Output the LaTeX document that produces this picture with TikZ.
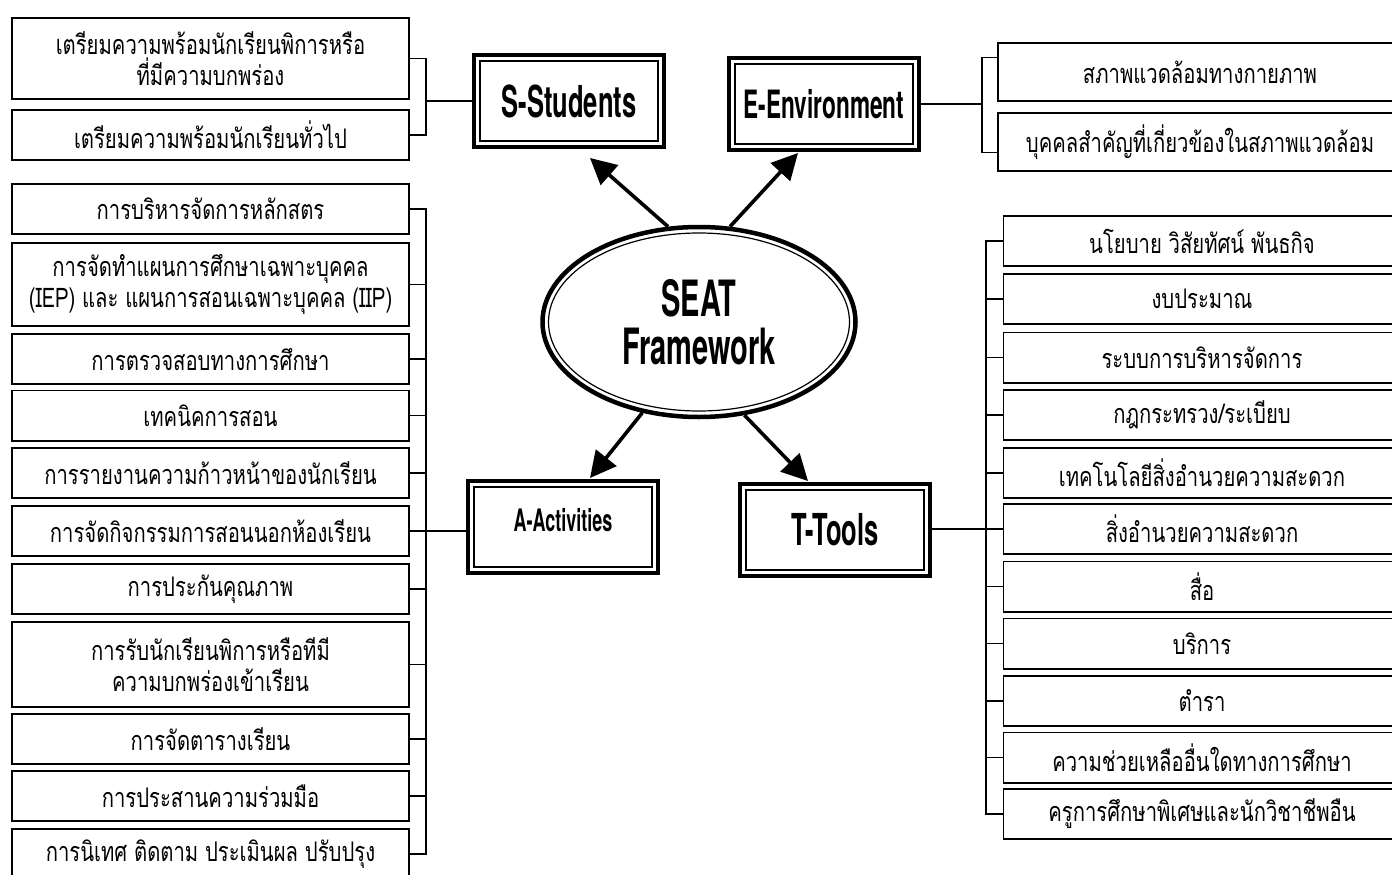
\documentclass[tikz,border=0pt]{standalone}
\usepackage{fontspec}
\usepackage{tikz}
\usetikzlibrary{arrows.meta,calc,shapes.geometric}
\newfontfamily\thaifont[Script=Thai,FakeStretch=0.75]{Loma}
\newfontfamily\headfont[FakeStretch=0.58]{TeX Gyre Heros}

\begin{document}
\begin{tikzpicture}[x=1pt,y=-1pt]
    % Stili per i riquadri
    \tikzset{
        item_box/.style={
            draw=black, % bordo sottile
            line width=1.6pt,
            fill=white,
            minimum width=397pt, % larghezza colonna
            minimum height=50.4pt, % altezza di una riga
            align=center,
            inner sep=2pt,
            outer sep=0pt,
            font=\thaifont\fontsize{27}{31}\selectfont
        },
        head_box/.style={
            draw=black, % bordo esterno spesso
            line width=4pt,
            fill=white,
            minimum width=190pt,
            minimum height=92pt,
            align=center,
            outer sep=0pt,
            font=\headfont\bfseries\fontsize{44}{48}\selectfont,
            path picture={
                \draw[line width=1.2pt] ([shift={(6pt,6pt)}]path picture bounding box.south west)
                    rectangle ([shift={(-6pt,-6pt)}]path picture bounding box.north east);
            }
        },
        seat_ellipse/.style={
            ellipse,
            draw=black, % bordo esterno spesso
            line width=4.5pt,
            fill=white,
            minimum width=313pt,
            minimum height=190pt,
            align=center,
            font=\headfont\bfseries\fontsize{50}{48}\selectfont,
            path picture={
                \draw[line width=1.2pt] let \p1=(path picture bounding box.north east),
                    \p2=(path picture bounding box.center) in
                    (\p2) ellipse [x radius=\x1-\x2-6pt, y radius=\y1-\y2-6pt];
            }
        },
        link_line/.style={
            draw=black,
            line width=1.5pt
        },
        arrow_line/.style={
            draw=black,
            line width=3.6pt,
            -{Triangle[length=26pt,width=26pt]}
        }
    }
    \useasboundingbox (0,0) rectangle (1392,875);

    % Nodo centrale
    \node[seat_ellipse] (seat) at (699,322) {SEAT\\Framework};

    % Intestazioni
    \node[head_box] (s_head) at (569,101) {S-Students};
    \node[head_box, font=\headfont\bfseries\fontsize{39}{44}\selectfont] (e_head) at (824,104) {E-Environment};
    \node[head_box, font=\headfont\bfseries\fontsize{31}{36}\selectfont] (a_head) at (563,527) {\raisebox{7pt}[\height][\depth]{A-Activities}};
    \node[head_box] (t_head) at (835,530) {T-Tools};

    % Frecce
    \coordinate (s_tip) at (590,158);
    \coordinate (e_tip) at (798,153);
    \coordinate (a_tip) at (590,478);
    \coordinate (t_tip) at (808,481);
    \draw[arrow_line] (seat.108) -- (s_tip);
    \draw[arrow_line] (seat.72) -- (e_tip);
    \draw[arrow_line] (seat.238) -- (a_tip);
    \draw[arrow_line] (seat.296) -- (t_tip);

    % S - Students
    \node[item_box, minimum height=81.4pt] (s_item1) at (210.5,58.5) {เตรียมความพร้อมนักเรียนพิการหรือ\\ที่มีความบกพร่อง};
    \node[item_box] (s_item2) at (210.5,135) {เตรียมความพร้อมนักเรียนทั่วไป};

    % E - Environment
    \node[item_box, minimum width=404pt, minimum height=58.4pt] (e_item1) at (1200,72) {สภาพแวดล้อมทางกายภาพ};
    \node[item_box, minimum width=404pt, minimum height=58.4pt] (e_item2) at (1200,142) {บุคคลสำคัญที่เกี่ยวข้องในสภาพแวดล้อม};

    % A - Activities
    \node[item_box] (a_item1) at (210.5,209) {การบริหารจัดการหลักสตร};
    \node[item_box, minimum height=83.4pt] (a_item2) at (210.5,284.5) {การจัดทำแผนการศึกษาเฉพาะบุคคล\\(IEP) และ แผนการสอนเฉพาะบุคคล (IIP)};
    \node[item_box] (a_item3) at (210.5,359) {การตรวจสอบทางการศึกษา};
    \node[item_box] (a_item4) at (210.5,415.5) {เทคนิคการสอน};
    \node[item_box] (a_item5) at (210.5,473) {การรายงานความก้าวหน้าของนักเรียน};
    \node[item_box] (a_item6) at (210.5,531) {การจัดกิจกรรมการสอนนอกห้องเรียน};
    \node[item_box] (a_item7) at (210.5,589) {การประกันคุณภาพ};
    \node[item_box, minimum height=85.4pt] (a_item8) at (210.5,664.5) {การรับนักเรียนพิการหรือทีมี\\ความบกพร่องเข้าเรียน};
    \node[item_box] (a_item9) at (210.5,739) {การจัดตารางเรียน};
    \node[item_box] (a_item10) at (210.5,796) {การประสานความร่วมมือ};
    \node[item_box] (a_item11) at (210.5,854) {การนิเทศ ติดตาม ประเมินผล ปรับปรุง};

    % T - Tools
    \node[item_box] (t_item1) at (1202,241) {นโยบาย วิสัยทัศน์ พันธกิจ};
    \node[item_box] (t_item2) at (1202,299) {งบประมาณ};
    \node[item_box] (t_item3) at (1202,357.5) {ระบบการบริหารจัดการ};
    \node[item_box] (t_item4) at (1202,415) {กฎกระทรวง/ระเบียบ};
    \node[item_box] (t_item5) at (1202,473) {เทคโนโลยีสิ่งอำนวยความสะดวก};
    \node[item_box] (t_item6) at (1202,529) {สิ่งอำนวยความสะดวก};
    \node[item_box] (t_item7) at (1202,586.5) {สื่อ};
    \node[item_box] (t_item8) at (1202,643.5) {บริการ};
    \node[item_box] (t_item9) at (1202,701) {ตำรา};
    \node[item_box] (t_item10) at (1202,757.5) {ความช่วยเหลืออื่นใดทางการศึกษา};
    \node[item_box] (t_item11) at (1202,814) {ครูการศึกษาพิเศษและนักวิชาชีพอืน};

    % Linee di collegamento (parentesi)
    \coordinate (s_bus) at (426,0);
    \coordinate (e_bus) at (982,0);
    \coordinate (a_bus) at (426,0);
    \coordinate (t_bus) at (986,0);
    \coordinate (e_stub1) at ($(e_item1.north west)!0.25!(e_item1.south west)$);
    \coordinate (e_stub2) at ($(e_item2.north west)!0.68!(e_item2.south west)$);

    \draw[link_line] (s_head.west) -- (s_head.west -| s_bus);
    \draw[link_line] (s_item1.east) -- (s_item1.east -| s_bus) -- (s_item2.east -| s_bus) -- (s_item2.east);

    \draw[link_line] (e_head.east) -- (e_head.east -| e_bus);
    \draw[link_line] (e_stub1) -- (e_stub1 -| e_bus) -- (e_stub2 -| e_bus) -- (e_stub2);

    \draw[link_line] (a_item1.east) -- (a_item1.east -| a_bus) -- (a_item11.east -| a_bus) -- (a_item11.east);
    \draw[link_line] (a_item2.east) -- (a_item2.east -| a_bus);
    \draw[link_line] (a_item3.east) -- (a_item3.east -| a_bus);
    \draw[link_line] (a_item4.east) -- (a_item4.east -| a_bus);
    \draw[link_line] (a_item5.east) -- (a_item5.east -| a_bus);
    \draw[link_line] (a_item6.east) -- (a_item6.east -| a_head.west);
    \draw[link_line] (a_item7.east) -- (a_item7.east -| a_bus);
    \draw[link_line] (a_item8.east) -- (a_item8.east -| a_bus);
    \draw[link_line] (a_item9.east) -- (a_item9.east -| a_bus);
    \draw[link_line] (a_item10.east) -- (a_item10.east -| a_bus);

    \draw[link_line] (t_item1.west) -- (t_item1.west -| t_bus) -- (t_item11.west -| t_bus) -- (t_item11.west);
    \draw[link_line] (t_item2.west) -- (t_item2.west -| t_bus);
    \draw[link_line] (t_item3.west) -- (t_item3.west -| t_bus);
    \draw[link_line] (t_item4.west) -- (t_item4.west -| t_bus);
    \draw[link_line] (t_item5.west) -- (t_item5.west -| t_bus);
    \draw[link_line] (t_item6.west) -- (t_item6.west -| t_head.east);
    \draw[link_line] (t_item7.west) -- (t_item7.west -| t_bus);
    \draw[link_line] (t_item8.west) -- (t_item8.west -| t_bus);
    \draw[link_line] (t_item9.west) -- (t_item9.west -| t_bus);
    \draw[link_line] (t_item10.west) -- (t_item10.west -| t_bus);

\end{tikzpicture}
\end{document}
